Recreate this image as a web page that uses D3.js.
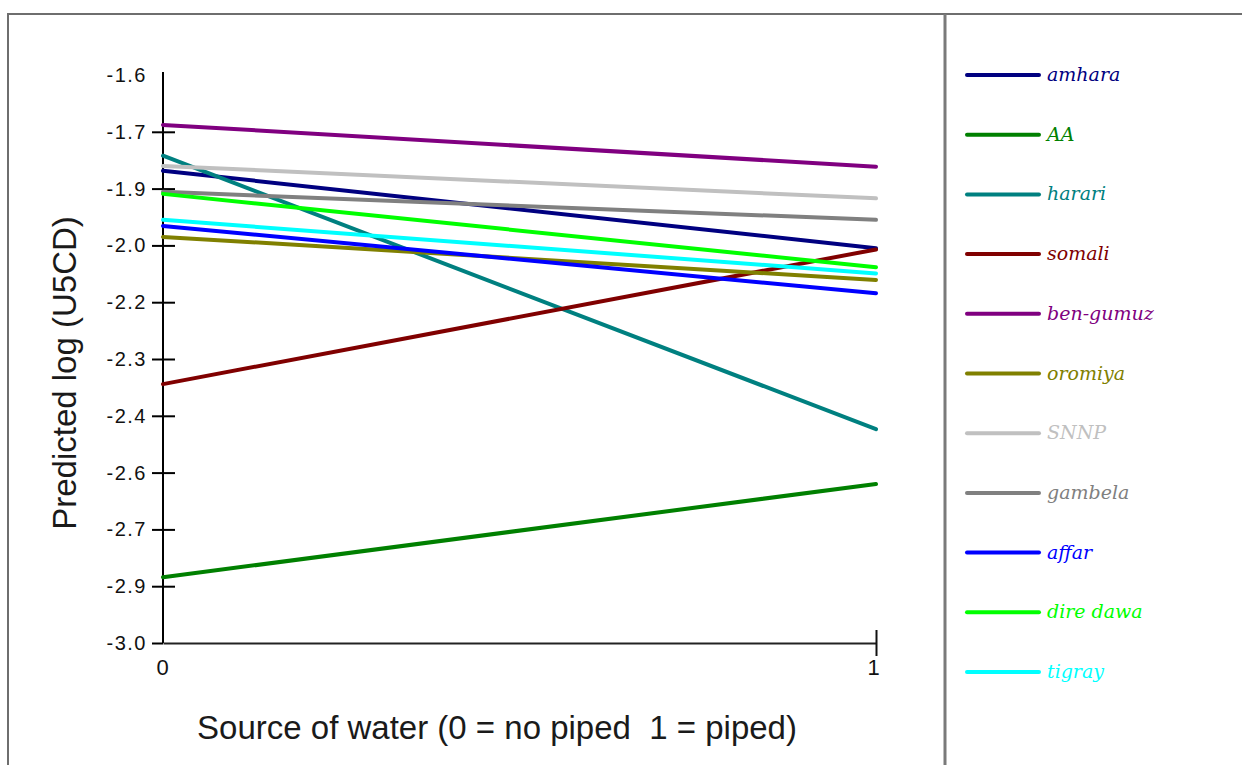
<!DOCTYPE html>
<html>
<head>
<meta charset="utf-8">
<script src="https://cdn.jsdelivr.net/npm/d3@7"></script>
<style>
  html, body { margin: 0; padding: 0; background: #fff; }
  svg { display: block; }
</style>
</head>
<body>
<svg id="chart" width="1242" height="765"></svg>
<script>
// Regions and their predicted log(U5CD) at water source 0 (no piped) and 1 (piped)
const regions = ["amhara", "AA", "harari", "somali", "ben-gumuz", "oromiya",
                 "SNNP", "gambela", "affar", "dire dawa", "tigray"];
const colors = ["#000080", "#008000", "#008080", "#800000", "#800080", "#808000",
                "#c0c0c0", "#808080", "#0000ff", "#00ff00", "#00ffff"];
const noPiped = [-1.836, -2.838, -1.799, -2.362, -1.723, -1.999,
                 -1.824, -1.888, -1.972, -1.893, -1.957];
const piped   = [-2.027, -2.608, -2.473, -2.030, -1.826, -2.105,
                 -1.904, -1.957, -2.138, -2.074, -2.089];

const xTicks = [0, 1];
const yTicks = [-1.6, -1.74, -1.88, -2.02, -2.16, -2.30, -2.44, -2.58, -2.72, -2.86, -3.0];
const yTickLabels = ["-1.6", "-1.7", "-1.9", "-2.0", "-2.2", "-2.3", "-2.4", "-2.6", "-2.7", "-2.9", "-3.0"];

const svg = d3.select("#chart");

// frame and legend divider
svg.append("path")
  .attr("d", "M8,765 V14 H1242")
  .attr("fill", "none").attr("stroke", "#6e6e6e").attr("stroke-width", 2);
svg.append("line")
  .attr("x1", 945).attr("x2", 945).attr("y1", 14).attr("y2", 765)
  .attr("stroke", "#7a7a7a").attr("stroke-width", 3);

const x = d3.scaleLinear().domain([0, 1]).range([163, 876]);
const y = d3.scaleLinear().domain([-3.0, -1.6]).range([643, 75]);

// y axis with cross ticks
const yAxis = svg.append("g")
  .attr("transform", `translate(${x(0)},0)`)
  .call(d3.axisLeft(y).tickValues(yTicks)
        .tickFormat((d, i) => yTickLabels[i])
        .tickSizeInner(11).tickSizeOuter(0).tickPadding(5));
yAxis.select(".domain")
  .attr("d", `M0,${y(-1.6) - 3}V${y(-3.0)}`)
  .attr("stroke", "#000").attr("stroke-width", 2);
yAxis.selectAll(".tick line")
  .attr("stroke", "#000").attr("stroke-width", 2)
  .attr("x1", (d) => d === -3.0 ? 0 : 12)
  .attr("x2", -11)
  .attr("display", (d) => d === -1.6 ? "none" : null);
yAxis.selectAll(".tick text")
  .attr("font-family", "'Liberation Sans', Arial, sans-serif")
  .attr("font-size", 20)
  .attr("letter-spacing", 1.5)
  .attr("fill", "#111");

// x axis
const xAxis = svg.append("g")
  .attr("transform", `translate(0,${y(-3.0)})`)
  .call(d3.axisBottom(x).tickValues(xTicks).tickFormat(d3.format("d"))
        .tickSizeInner(0).tickSizeOuter(0).tickPadding(16));
xAxis.select(".domain").attr("stroke", "#222").attr("stroke-width", 2);
xAxis.selectAll(".tick line")
  .attr("stroke", "#111").attr("stroke-width", 2)
  .attr("y1", (d) => d === 1 ? -13 : 0)
  .attr("y2", (d) => d === 1 ? 13 : 0);
xAxis.selectAll(".tick text")
  .attr("font-family", "'Liberation Sans', Arial, sans-serif")
  .attr("font-size", 22)
  .attr("fill", "#111")
  .attr("transform", (d) => d === 1 ? "translate(-3,0)" : "translate(-1,0)");

// axis titles
svg.append("text")
  .attr("x", 497).attr("y", 739)
  .attr("text-anchor", "middle")
  .attr("font-family", "'Liberation Sans', Arial, sans-serif")
  .attr("font-size", 33)
  .attr("fill", "#1a1a1a")
  .attr("xml:space", "preserve")
  .text("Source of water (0 = no piped  1 = piped)");
svg.append("text")
  .attr("transform", "translate(76,373) rotate(-90)")
  .attr("text-anchor", "middle")
  .attr("font-family", "'Liberation Sans', Arial, sans-serif")
  .attr("font-size", 33)
  .attr("fill", "#1a1a1a")
  .text("Predicted log (U5CD)");

// region lines
const series = regions.map((name, i) => ({
  name, color: colors[i],
  values: [[0, noPiped[i]], [1, piped[i]]]
}));
const line = d3.line().x((d) => x(d[0])).y((d) => y(d[1]));
svg.append("g").selectAll("path")
  .data(series).join("path")
  .attr("d", (d) => line(d.values))
  .attr("fill", "none")
  .attr("stroke", (d) => d.color)
  .attr("stroke-width", 4)
  .attr("stroke-linecap", "round");

// legend
const legendY = d3.scalePoint().domain(regions).range([75, 672]);
const legend = svg.append("g").selectAll("g")
  .data(series).join("g")
  .attr("transform", (d) => `translate(0,${legendY(d.name)})`);
legend.append("line")
  .attr("x1", 967).attr("x2", 1039)
  .attr("stroke", (d) => d.color)
  .attr("stroke-width", 4)
  .attr("stroke-linecap", "round");
legend.append("text")
  .attr("x", 1047).attr("dy", "0.32em")
  .attr("font-family", "'DejaVu Serif', serif")
  .attr("font-style", "italic")
  .attr("font-size", 19)
  .attr("fill", (d) => d.color)
  .text((d) => d.name);
</script>
</body>
</html>
